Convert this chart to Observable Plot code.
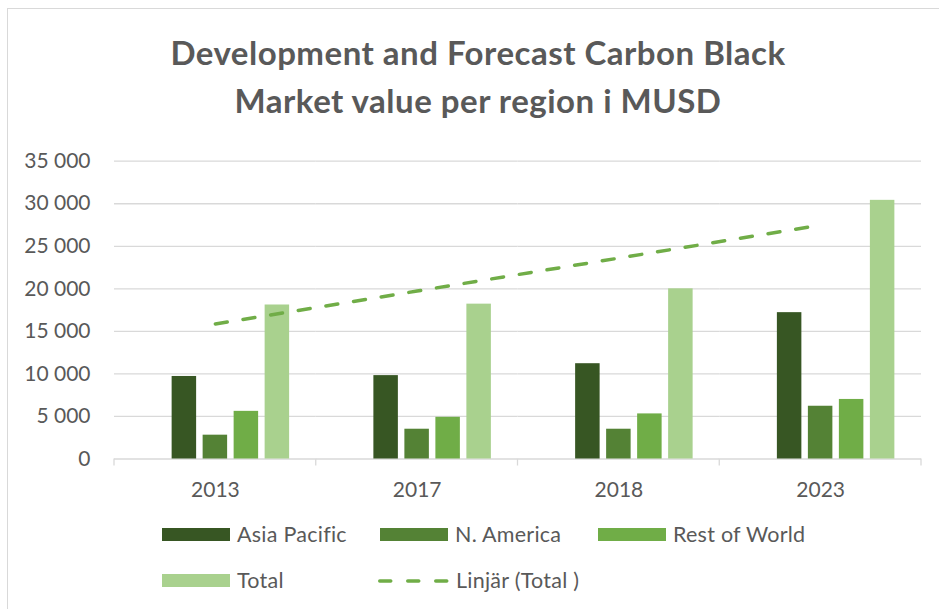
<!DOCTYPE html>
<html>
<head>
<meta charset="utf-8">
<script src="https://cdn.jsdelivr.net/npm/d3@7"></script>
<script src="https://cdn.jsdelivr.net/npm/@observablehq/plot@0.6"></script>
<style>
  html, body { margin: 0; padding: 0; background: #fff; }
  #wrap { position: relative; width: 939px; height: 609px; overflow: hidden; background: #fff; font-family: Lato, sans-serif; color: #595959; }
  #border { position: absolute; left: 7px; top: 8px; right: -10px; bottom: -10px; border-top: 1.5px solid #d9d9d9; border-left: 1.5px solid #d9d9d9; }
  .title { position: absolute; left: 0; width: 956px; text-align: center; font-weight: 700; font-size: 33px; letter-spacing: 0.5px; line-height: 1; white-space: nowrap; }
  .layer { position: absolute; left: 0; top: 130px; }
  .leg { position: absolute; font-size: 21.5px; letter-spacing: 0.25px; line-height: 1; white-space: nowrap; }
  .sw { position: absolute; width: 68px; height: 13px; }
</style>
</head>
<body>
<div id="wrap">
  <div id="border"></div>
  <div class="title" id="t1" style="top:36px">Development and Forecast Carbon Black</div>
  <div class="title" id="t2" style="top:83.5px">Market value per region i MUSD</div>
  <div class="layer" id="bars"></div>
  <div class="layer" id="over"></div>
  <div id="legend"></div>
</div>
<script>
const years = ["2013", "2017", "2018", "2023"];
const series = ["Asia Pacific", "N. America", "Rest of World", "Total"];
const asiaPacific = [9700, 9800, 11200, 17200];
const nAmerica = [2800, 3500, 3500, 6200];
const restOfWorld = [5600, 4900, 5300, 7000];
const total = [18100, 18200, 20000, 30400];
const colors = ["#375623", "#548235", "#70ad47", "#a9d18e"];
const yTicks = [0, 5000, 10000, 15000, 20000, 25000, 30000, 35000];
const trendLabel = "Linjär (Total )";
const trendColor = "#70ad47";

const values = [asiaPacific, nAmerica, restOfWorld, total];
const rows = [];
years.forEach((yr, i) => series.forEach((s, j) => rows.push({year: yr, series: s, value: values[j][i]})));

// Excel linear trendline of Total against category index 1..n
const idx = years.map((_, i) => i + 1);
const mx = d3.mean(idx), my = d3.mean(total);
const slope = d3.sum(idx, (x, i) => (x - mx) * (total[i] - my)) / d3.sum(idx, x => (x - mx) ** 2);
const icpt = my - slope * mx;
const trend = years.map((yr, i) => ({year: yr, value: icpt + slope * idx[i]}));

const W = 939, H = 380;
const M = {marginLeft: 114, marginRight: 18, marginTop: 30.7, marginBottom: 51.5};
const fmt = d => d3.format(",")(d).replace(/,/g, " ");
const gray = "#d9d9d9";

const bars = Plot.plot({
  width: W, height: H, ...M,
  style: {fontFamily: "Lato, sans-serif", fontSize: "21px", color: "#595959", background: "transparent"},
  fx: {domain: years, padding: 0, round: false, axis: "bottom", tickSize: 0, tickPadding: 23, label: null},
  x: {domain: ["", ...series], paddingInner: 0.21, paddingOuter: 0.859, round: false, axis: null},
  y: {domain: [0, 35000], ticks: yTicks, tickSize: 0, tickPadding: 24, tickFormat: fmt, label: null},
  color: {domain: series, range: colors},
  marks: [
    Plot.ruleY(yTicks, {stroke: gray, strokeWidth: 1.3}),
    Plot.barY(rows, {fx: "year", x: "series", y: "value", fill: "series"})
  ]
});
document.getElementById("bars").appendChild(bars);

const over = Plot.plot({
  width: W, height: H, ...M,
  style: {background: "transparent", overflow: "visible"},
  x: {type: "band", domain: years, padding: 0, round: false, axis: null},
  y: {domain: [0, 35000], axis: null},
  marks: [
    Plot.line(trend, {x: "year", y: "value", stroke: trendColor, strokeWidth: 3.5, strokeDasharray: "12,16", strokeLinecap: "round"})
  ]
});
document.getElementById("over").appendChild(over);

// category boundary ticks below the axis, from the band scale
const sx = over.scale("x"), sy = over.scale("y");
const edges = [...years.map(y => sx.apply(y)), Math.max(...sx.range)];
const y0 = sy.apply(0);
d3.select(over).append("g").selectAll("line").data(edges).join("line")
  .attr("x1", d => d).attr("x2", d => d).attr("y1", y0).attr("y2", y0 + 7)
  .attr("stroke", gray).attr("stroke-width", 1.3);

// legend
const legend = document.getElementById("legend");
const items = [
  {label: series[0], color: colors[0], x: 162, y: 528},
  {label: series[1], color: colors[1], x: 380, y: 528},
  {label: series[2], color: colors[2], x: 598, y: 528},
  {label: series[3], color: colors[3], x: 162, y: 574},
  {label: trendLabel, color: trendColor, x: 378, y: 574, dash: true}
];
items.forEach(it => {
  if (it.dash) {
    const s = d3.create("svg").attr("width", 72).attr("height", 14)
      .style("position", "absolute").style("left", it.x + "px").style("top", it.y + "px");
    s.append("line").attr("x1", 1.75).attr("x2", 70).attr("y1", 7).attr("y2", 7)
      .attr("stroke", it.color).attr("stroke-width", 3.5).attr("stroke-linecap", "round").attr("stroke-dasharray", "11,17");
    legend.appendChild(s.node());
  } else {
    const d = document.createElement("div");
    d.className = "sw"; d.style.left = it.x + "px"; d.style.top = it.y + "px"; d.style.background = it.color;
    legend.appendChild(d);
  }
  const t = document.createElement("div");
  t.className = "leg"; t.textContent = it.label;
  t.style.left = (it.x + (it.dash ? 78 : 75)) + "px"; t.style.top = (it.y - 4) + "px";
  legend.appendChild(t);
});
</script>
</body>
</html>
